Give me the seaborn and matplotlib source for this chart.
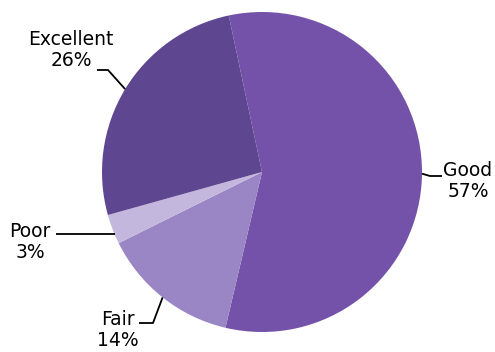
import numpy as np
import matplotlib
matplotlib.use('Agg')
import matplotlib.pyplot as plt
import seaborn as sns

sns.set_theme(style='white')
plt.rcParams['font.family'] = ['DejaVu Sans']

# data
ratings = ['Good', 'Fair', 'Poor', 'Excellent']
shares = [57, 14, 3, 26]
colors = ['#7452a9', '#9a85c5', '#c4b7dd', '#5f4690']

# label layout in pixels (text centre, elbow, end of horizontal line)
text_px = [(468, 181), (118, 330), (30, 242), (71, 50)]
elbow_px = [(430, 176), (153, 323), None, (108, 70)]
end_px = [(442, 176), (139, 323), (56, 234), (97, 70)]

W, H = 495, 352
cx, cy, R = 262, 172, 160

def to_data(p):
    return ((p[0] - cx) / R, (cy - p[1]) / R)

fig = plt.figure(figsize=(W / 100, H / 100), dpi=100)
ax = fig.add_axes([0, 0, 1, 1])
wedges, _ = ax.pie(shares, colors=colors, startangle=102, counterclock=False,
                   radius=1, center=(0, 0), wedgeprops=dict(linewidth=0))
ax.set_xlim(-cx / R, (W - cx) / R)
ax.set_ylim(-(H - cy) / R, cy / R)
ax.set_aspect('equal')
ax.axis('off')

for w, name, val, tp, ep, hp in zip(wedges, ratings, shares, text_px, elbow_px, end_px):
    h = to_data(hp)
    if ep is None:
        # straight horizontal leader meeting the rim
        sx = -np.sqrt(1 - h[1] ** 2) * np.sign(-h[0])
        xs, ys = [sx, h[0]], [h[1], h[1]]
    else:
        mid = np.deg2rad((w.theta1 + w.theta2) / 2)
        e = to_data(ep)
        xs = [np.cos(mid), e[0], h[0]]
        ys = [np.sin(mid), e[1], h[1]]
    ax.plot(xs, ys, color='black', lw=1.3, solid_capstyle='butt')
    t = to_data(tp)
    ax.text(t[0], t[1], f'{name}\n{val}%', ha='center', va='center',
            multialignment='center', fontsize=13.5, color='black', linespacing=1.15)

fig.savefig('out.png', dpi=100)
